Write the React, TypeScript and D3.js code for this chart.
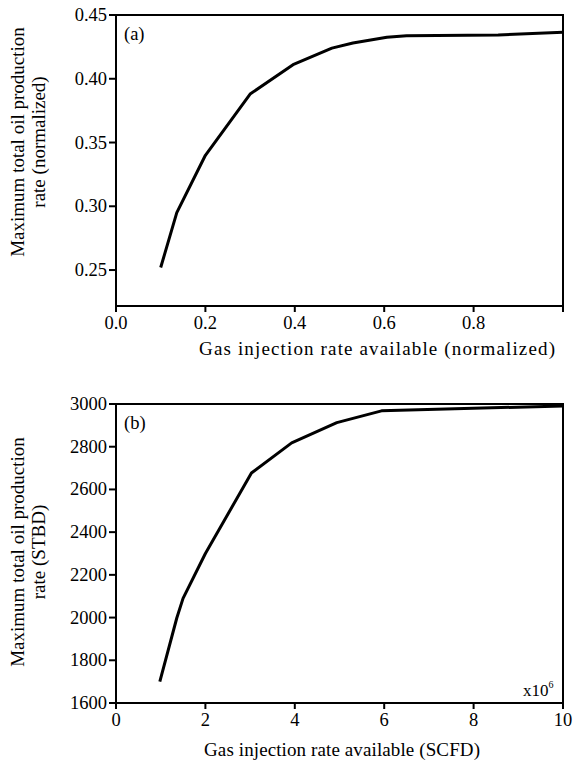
import React from 'react';
import * as d3 from 'd3';

// panel (a): normalized values
const gasNorm = [0.1, 0.136, 0.2, 0.3, 0.396, 0.483, 0.53, 0.606, 0.65, 0.855, 1.0];
const oilNorm = [0.252, 0.295, 0.34, 0.388, 0.411, 0.424, 0.428, 0.4325, 0.4338, 0.4343, 0.4364];

// panel (b): field units (x in 10^6 SCFD)
const gasScfd = [0.98, 1.36, 1.5, 2.0, 3.03, 3.93, 4.94, 5.94, 10.0];
const oilStbd = [1700, 1998, 2090, 2300, 2677, 2818, 2913, 2968, 2991];

const xTicksA = [0, 0.2, 0.4, 0.6, 0.8, 1.0];
const yTicksA = [0.25, 0.3, 0.35, 0.4, 0.45];
const xTicksB = [0, 2, 4, 6, 8, 10];
const yTicksB = [1600, 1800, 2000, 2200, 2400, 2600, 2800, 3000];

const FONT = "'Liberation Serif', 'Times New Roman', serif";

type PanelProps = {
  top: number;
  bottom: number;
  xDomain: [number, number];
  yDomain: [number, number];
  xs: number[];
  ys: number[];
  xTicks: number[];
  yTicks: number[];
  xFmt: (v: number) => string;
  yFmt: (v: number) => string;
  tag: string;
  xLabel: string;
  yLabel2: string;
  xLabelX: number;
  xLabelY: number;
  xLabelLen: number;
  yLabelY: number;
  multiplier?: boolean;
};

const left = 116;
const right = 563;

function Panel(p: PanelProps) {
  const x = d3.scaleLinear().domain(p.xDomain).range([left, right]);
  const y = d3.scaleLinear().domain(p.yDomain).range([p.bottom, p.top]);
  const pts = p.xs.map((v, i) => [v, p.ys[i]] as [number, number]);
  const line = d3.line<[number, number]>().x(d => x(d[0])).y(d => y(d[1]));

  return (
    <g>
      <rect x={left} y={p.top} width={right - left} height={p.bottom - p.top} fill="none" stroke="#000" strokeWidth={2} />
      {p.xTicks.map(t => (
        <g key={'x' + t}>
          <line x1={x(t)} x2={x(t)} y1={p.bottom} y2={p.bottom + 6} stroke="#000" strokeWidth={2} />
          {p.xFmt(t) && (
            <text x={x(t)} y={p.bottom + 23} textAnchor="middle" fontSize={18.5}>{p.xFmt(t)}</text>
          )}
        </g>
      ))}
      {p.yTicks.map(t => (
        <g key={'y' + t}>
          <line x1={left - 7} x2={left} y1={y(t)} y2={y(t)} stroke="#000" strokeWidth={2} />
          <text x={left - 9} y={y(t) + 6} textAnchor="end" fontSize={18.5}>{p.yFmt(t)}</text>
        </g>
      ))}
      <path d={line(pts) || ''} fill="none" stroke="#000" strokeWidth={3} strokeLinejoin="round" />
      <text x={left + 8} y={p.top + 25} fontSize={18.5}>{p.tag}</text>
      {p.multiplier && (
        <text x={right - 40} y={p.bottom - 7} fontSize={17}>
          x10<tspan fontSize={10} dy={-8}>6</tspan>
        </text>
      )}
      <text x={p.xLabelX} y={p.xLabelY} textAnchor="middle" fontSize={19}
        textLength={p.xLabelLen} lengthAdjust="spacing">{p.xLabel}</text>
      <text transform={`translate(24, ${p.yLabelY}) rotate(-90)`} textAnchor="middle" fontSize={19}>
        Maximum total oil production
      </text>
      <text transform={`translate(45, ${p.yLabelY}) rotate(-90)`} textAnchor="middle" fontSize={19}>
        {p.yLabel2}
      </text>
    </g>
  );
}

export default function App() {
  return (
    <svg width={574} height={765} style={{ position: 'absolute', left: 0, top: 0, background: '#fff', fontFamily: FONT }}>
      <rect width={574} height={765} fill="#fff" />
      <Panel
        top={15}
        bottom={306}
        xDomain={[0, 1]}
        yDomain={[0.2218, 0.45]}
        xs={gasNorm}
        ys={oilNorm}
        xTicks={xTicksA}
        yTicks={yTicksA}
        xFmt={v => (v === 1 ? '' : v.toFixed(1))}
        yFmt={v => v.toFixed(2)}
        tag="(a)"
        xLabel="Gas injection rate available (normalized)"
        yLabel2="rate (normalized)"
        xLabelX={377}
        xLabelY={355}
        xLabelLen={356}
        yLabelY={142}
      />
      <Panel
        top={404}
        bottom={703}
        xDomain={[0, 10]}
        yDomain={[1600, 3000]}
        xs={gasScfd}
        ys={oilStbd}
        xTicks={xTicksB}
        yTicks={yTicksB}
        xFmt={v => String(v)}
        yFmt={v => String(v)}
        tag="(b)"
        xLabel="Gas injection rate available (SCFD)"
        yLabel2="rate (STBD)"
        xLabelX={342}
        xLabelY={756}
        xLabelLen={276}
        yLabelY={552}
        multiplier
      />
    </svg>
  );
}
